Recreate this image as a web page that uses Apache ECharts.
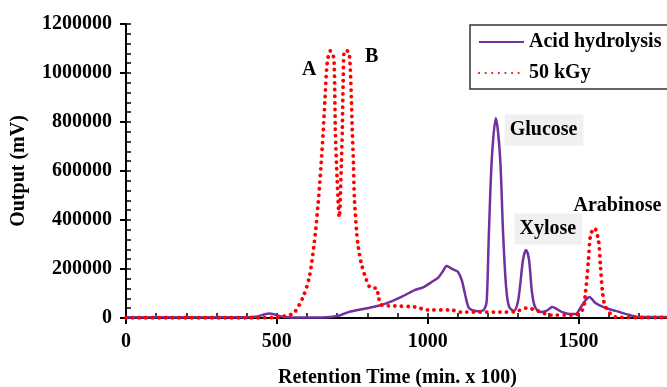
<!DOCTYPE html>
<html>
<head>
<meta charset="utf-8">
<script src="https://cdn.jsdelivr.net/npm/echarts@6/dist/echarts.min.js"></script>
<style>
  html, body { margin: 0; padding: 0; background: #fff; }
  #chart { width: 667px; height: 387px; }
</style>
</head>
<body>
<div id="chart"></div>
<script>
// Retention time (min x 100) and detector output (mV)
const acidTime = [0, 200, 400, 430, 475, 520, 550, 650, 703, 737, 800, 847, 880, 913, 957, 985, 1013, 1035, 1050, 1063,
  1075, 1090, 1100, 1113, 1123, 1135, 1146, 1165, 1180, 1190, 1196, 1203, 1213, 1226, 1240, 1250, 1260, 1270, 1286, 1298,
  1306, 1316, 1326, 1336, 1346, 1356, 1373, 1395, 1413, 1430, 1446, 1470, 1490, 1506, 1522, 1536, 1556, 1589, 1623, 1670,
  1700, 1800];
const acidOutput = [3000, 3000, 3000, 5000, 18000, 5000, 2000, 2000, 8000, 24000, 40000, 53000, 68000, 86000, 114000, 125000, 147000, 165000, 190000, 212000,
  205000, 195000, 189000, 155000, 102000, 45000, 33000, 28000, 29000, 41000, 73000, 347000, 657000, 816000, 657000, 347000, 127000, 45000, 29000, 60000,
  127000, 237000, 278000, 237000, 102000, 45000, 24000, 30000, 45000, 35000, 24000, 16000, 16000, 41000, 70000, 86000, 61000, 41000, 29000, 12000,
  4000, 4000];

const gyTime = [0, 200, 400, 500, 514, 537, 557, 587, 607, 624, 637, 647, 654, 660, 667, 677, 686, 690, 694, 700,
  707, 714, 717, 720, 724, 732, 740, 747, 750, 754, 757, 764, 770, 780, 797, 813, 830, 837, 847, 890,
  957, 1000, 1076, 1110, 1242, 1290, 1330, 1365, 1408, 1485, 1513, 1523, 1533, 1540, 1553, 1566, 1573, 1580, 1590, 1623,
  1700, 1800];
const gyOutput = [1000, 1000, 1000, 2000, 5000, 11000, 20000, 86000, 163000, 306000, 469000, 633000, 767000, 902000, 1041000, 1090000, 1075000, 1041000, 767000, 563000,
  412000, 633000, 767000, 971000, 1090000, 1090000, 1082000, 902000, 767000, 633000, 494000, 359000, 290000, 224000, 155000, 122000, 122000, 86000, 53000, 49000,
  45000, 33000, 33000, 24000, 24000, 26000, 41000, 29000, 12000, 12000, 33000, 102000, 237000, 339000, 367000, 318000, 208000, 102000, 45000, 4000,
  2000, 2000];

// peak annotations: [label, time, output]
const peakLabels = [
  ['A', 607, 1012000],
  ['B', 814, 1065000],
  ['Arabinose', 1629, 457000]
];
const boxedLabels = [
  ['Glucose', 1386, 767000],
  ['Xylose', 1400, 363000]
];

const FONT = "'Liberation Serif', 'Times New Roman', serif";
const PURPLE = '#7030A0';
const RED = '#FF0000';

const chart = echarts.init(document.getElementById('chart'));

const textStyle = { fontFamily: FONT, fontWeight: 'bold', fontSize: 20, color: '#000' };

const markData = peakLabels.map(([name, x, y]) => ({
  coord: [x, y],
  label: { show: true, formatter: name, ...textStyle }
})).concat(boxedLabels.map(([name, x, y]) => ({
  coord: [x, y],
  label: {
    show: true, formatter: name, ...textStyle,
    backgroundColor: '#F0F0F0', padding: [6, 6, 5, 5]
  }
})));

const option = {
  animation: false,
  grid: { left: 126, right: -2, top: 24, bottom: 69, containLabel: false, outerBoundsMode: 'none' },
  legend: {
    left: 470,
    top: 25,
    orient: 'vertical',
    padding: [7, 24, 6, 8],
    itemGap: 11,
    itemWidth: 45,
    itemHeight: 18,
    borderColor: '#333',
    borderWidth: 1.5,
    itemStyle: { opacity: 0 },
    textStyle: { ...textStyle },
    data: ['Acid hydrolysis', '50 kGy']
  },
  xAxis: [
    {
      type: 'value',
      min: 0,
      max: 1800,
      interval: 500,
      name: 'Retention Time (min. x 100)',
      nameLocation: 'middle',
      nameGap: 50,
      nameTextStyle: textStyle,
      axisLine: { lineStyle: { color: '#000', width: 2 } },
      axisTick: { inside: false, length: 6, lineStyle: { color: '#000', width: 2 } },
      axisLabel: { ...textStyle, margin: 14, showMaxLabel: false, formatter: v => String(v) },
      splitLine: { show: false }
    },
    {
      type: 'value',
      min: 0,
      max: 1800,
      interval: 100,
      position: 'bottom',
      axisLine: { show: false },
      axisTick: { inside: true, length: 5, lineStyle: { color: '#000', width: 1.5 } },
      axisLabel: { show: false },
      splitLine: { show: false }
    }
  ],
  yAxis: [
    {
      type: 'value',
      min: 0,
      max: 1200000,
      interval: 200000,
      name: 'Output (mV)',
      nameLocation: 'middle',
      nameRotate: 90,
      nameGap: 97,
      nameTextStyle: textStyle,
      axisLine: { show: true, lineStyle: { color: '#000', width: 2 } },
      axisTick: { show: true, inside: false, length: 6, lineStyle: { color: '#000', width: 2 } },
      axisLabel: { ...textStyle, margin: 14, formatter: v => String(v) },
      splitLine: { show: false }
    },
    {
      type: 'value',
      min: 0,
      max: 1200000,
      interval: 40000,
      position: 'left',
      axisLine: { show: false },
      axisTick: { show: true, inside: true, length: 5, lineStyle: { color: '#000', width: 1.5 } },
      axisLabel: { show: false },
      splitLine: { show: false }
    }
  ],
  series: [
    {
      name: 'Acid hydrolysis',
      type: 'line',
      data: acidTime.map((t, i) => [t, acidOutput[i]]),
      showSymbol: false,
      symbol: 'none',
      smooth: 0.3,
      lineStyle: { color: PURPLE, width: 2.5 },
      itemStyle: { color: PURPLE },
      markPoint: {
        symbol: 'circle',
        symbolSize: 0,
        silent: true,
        label: { position: 'inside' },
        data: markData
      }
    },
    {
      name: '50 kGy',
      type: 'line',
      data: gyTime.map((t, i) => [t, gyOutput[i]]),
      showSymbol: false,
      symbol: 'none',
      smooth: 0.3,
      lineStyle: { color: RED, width: 3.8, type: [0.1, 6.5], cap: 'round' },
      itemStyle: { color: RED }
    }
  ]
};

chart.setOption(option);
</script>
</body>
</html>
